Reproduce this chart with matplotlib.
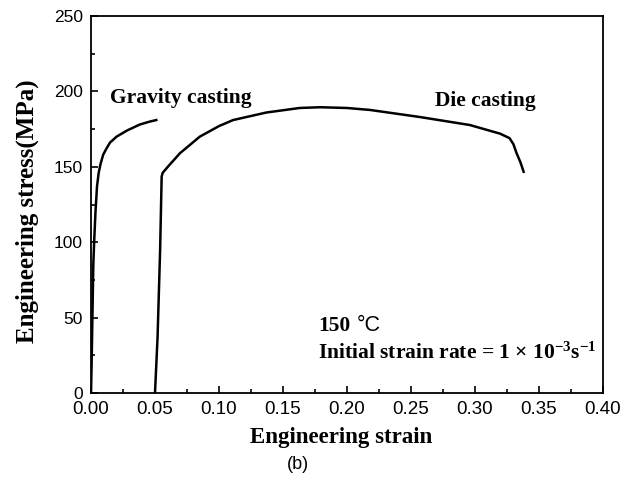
import matplotlib
matplotlib.use("Agg")
import matplotlib.pyplot as plt
from matplotlib.ticker import MultipleLocator

plt.rcParams["mathtext.fontset"] = "custom"
plt.rcParams["mathtext.rm"] = "Liberation Serif:bold"
plt.rcParams["mathtext.bf"] = "Liberation Serif:bold"
plt.rcParams["mathtext.it"] = "Liberation Serif:bold:italic"

# Gravity casting curve (strain, stress MPa)
grav_strain = [0.0, 0.0005, 0.0012, 0.0018, 0.0025, 0.0035, 0.0047, 0.006, 0.0075, 0.0095, 0.012, 0.0148, 0.02, 0.028, 0.038, 0.046, 0.051]
grav_stress = [0, 20, 55, 85, 101, 120, 137, 146, 152, 158, 162, 166, 170, 174, 178, 180, 181]

# Die casting curve
die_strain = [0.050, 0.052, 0.054, 0.0552, 0.056, 0.060, 0.0695, 0.085, 0.100, 0.111, 0.137, 0.163, 0.179, 0.200, 0.218, 0.257, 0.296, 0.3195, 0.327, 0.330, 0.3325, 0.3355, 0.338]
die_stress = [0, 37, 95, 143.5, 146, 150, 159, 170, 177, 181, 186, 189, 189.5, 189, 187.7, 183, 177.7, 172, 169, 165, 159, 153, 146.7]

x_ticks = [0, 0.05, 0.10, 0.15, 0.20, 0.25, 0.30, 0.35, 0.40]
x_ticklabels = ["0.00", "0.05", "0.10", "0.15", "0.20", "0.25", "0.30", "0.35", "0.40"]
y_ticks = [0, 50, 100, 150, 200, 250]

W, H = 633, 486
fig = plt.figure(figsize=(W / 100, H / 100), dpi=100)
ax = fig.add_axes([91 / W, 1 - 393 / H, 512 / W, 377 / H])

ax.plot(grav_strain, grav_stress, color="black", lw=1.8)
ax.plot(die_strain, die_stress, color="black", lw=1.8)

ax.set_xlim(0, 0.40)
ax.set_ylim(0, 250)
ax.set_xticks(x_ticks)
ax.set_xticklabels(x_ticklabels)
ax.set_yticks(y_ticks)
ax.xaxis.set_minor_locator(MultipleLocator(0.025))
ax.yaxis.set_minor_locator(MultipleLocator(25))

for s in ax.spines.values():
    s.set_linewidth(1.3)

ax.tick_params(which="both", direction="in", top=False, right=False, width=1.2)
ax.tick_params(which="major", length=5)
ax.tick_params(which="minor", length=3)
ax.tick_params(axis="x", which="major", labelsize=13.5, pad=6)
ax.tick_params(axis="y", which="major", labelsize=12.5, pad=6)
for lab in ax.get_xticklabels() + ax.get_yticklabels():
    lab.set_fontfamily("Liberation Sans")

serif = "Liberation Serif"
fig.text(341.5 / W, 1 - 443 / H, "Engineering strain", fontfamily=serif, fontweight="bold",
         fontsize=16.5, ha="center", va="baseline")
fig.text(27 / W, 1 - 211.5 / H, "Engineering stress(MPa)", fontfamily=serif, fontweight="bold",
         fontsize=18, ha="center", va="center", rotation=90)

fs = 15.5
ax.text(0.0148, 192.3, "Gravity casting", fontfamily=serif, fontweight="bold", fontsize=fs, va="baseline", ha="left")
ax.text(0.2688, 190, "Die casting", fontfamily=serif, fontweight="bold", fontsize=fs, va="baseline", ha="left")
ax.text(0.1773, 41, "150", fontfamily=serif, fontweight="bold", fontsize=fs, va="baseline", ha="left")
ax.text(0.2078, 41, "\u00b0C", fontfamily="Liberation Sans", fontsize=fs, va="baseline", ha="left")
ax.text(0.1773, 23, "Initial strain rate = 1 \u00d7 10$^{-3}$s$^{-1}$",
        fontfamily=serif, fontweight="bold", fontsize=fs, va="baseline", ha="left")

fig.text(298 / W, 1 - 464 / H, "(b)", fontfamily="Liberation Sans", fontsize=13, ha="center", va="center")

fig.savefig("out.png", dpi=100, facecolor="white")
